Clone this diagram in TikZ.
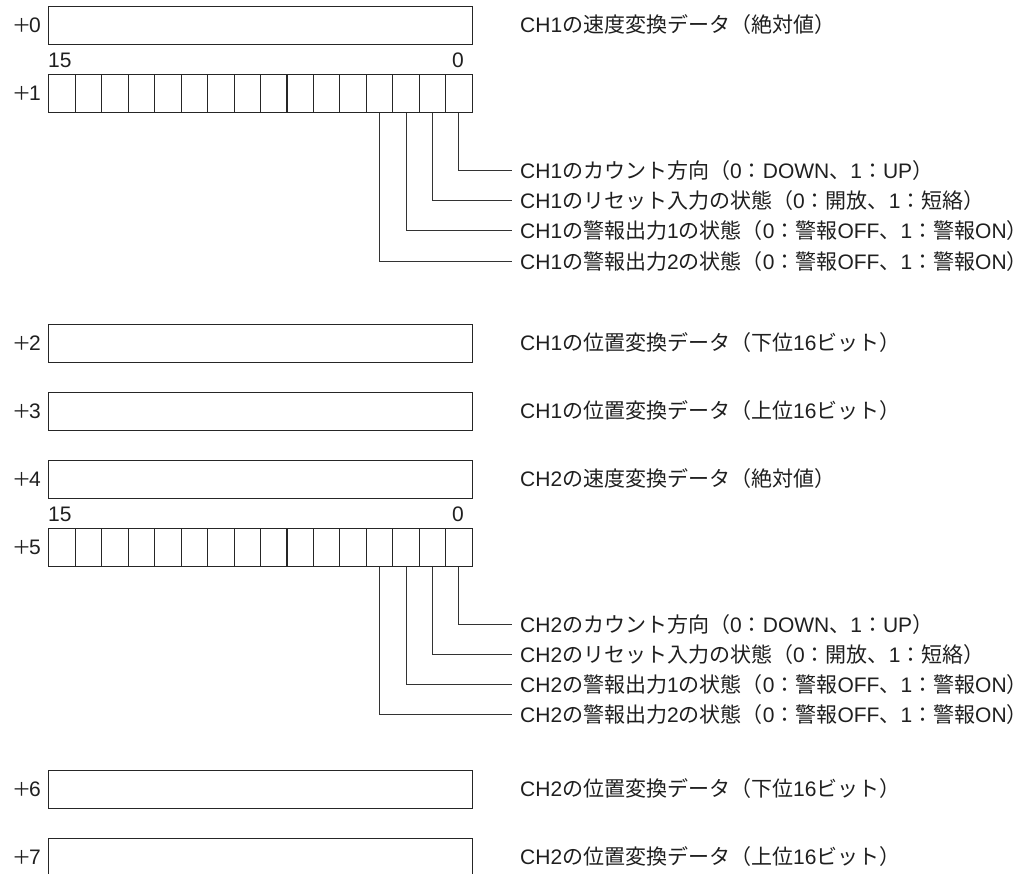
\documentclass[tikz,border=0pt]{standalone}
\usepackage{fontspec}
\setmainfont{Liberation Sans}
\newfontfamily\jpfont{Noto Sans CJK JP}
\newcommand\J[1]{{\jpfont #1}}
\newcommand\PL[1]{{\jpfont\fontsize{19}{23}\selectfont ＋}\kern-2pt#1}
\begin{document}
\begin{tikzpicture}[x=1pt,y=-1pt,
  font=\fontsize{21}{25}\selectfont,
  every node/.style={text=black!88},
  reg/.style={draw=black!85, line width=1.1pt, minimum width=423.4pt, minimum height=38pt, inner sep=0, anchor=north west},
  bitcell/.style={draw=black!85, line width=1.1pt, minimum width=26.46pt, minimum height=38pt, inner sep=0, anchor=north west},
  lbl/.style={anchor=east, inner sep=0},
  desc/.style={anchor=west, inner ysep=0, inner xsep=8pt},
  leader/.style={draw=black!80, line width=1pt}]
\useasboundingbox (0,0) rectangle (1031,874);
\clip (0,0) rectangle (1031,874);

% ---- +0
\node[reg] (r0) at (48.3,6) {};
\node[lbl] (l0) at (41,25) {\PL{0}};
\node[desc] (d0) at (512,25) {CH1\J{の速度変換データ（絶対値）}};
\node[anchor=west, inner sep=0] (h15a) at (48,60) {15};
\node[anchor=east, inner sep=0] (h0a) at (464,60) {0};

% ---- +1 bits
\foreach \i in {0,...,15}{\node[bitcell] (a\i) at ({48.3+26.46*\i},74) {};}
\node[lbl] (l1) at (41,93) {\PL{1}};
\node[desc] (e0) at (512,170.7) {CH1\J{のカウント方向（}0\J{：}DOWN\J{、}1\J{：}UP\J{）}};
\node[desc] (e1) at (512,200.7) {CH1\J{のリセット入力の状態（}0\J{：開放、}1\J{：短絡）}};
\node[desc] (e2) at (512,231) {CH1\J{の警報出力}1\J{の状態（}0\J{：警報}OFF\J{、}1\J{：警報}ON\J{）}};
\node[desc] (e3) at (512,261.3) {CH1\J{の警報出力}2\J{の状態（}0\J{：警報}OFF\J{、}1\J{：警報}ON\J{）}};
\draw[leader] (a15.south) |- (e0.west);
\draw[leader] (a14.south) |- (e1.west);
\draw[leader] (a13.south) |- (e2.west);
\draw[leader] (a12.south) |- (e3.west);

% ---- +2, +3
\node[reg] (r2) at (48.3,324) {};
\node[lbl] (l2) at (41,343) {\PL{2}};
\node[desc] (d2) at (512,343) {CH1\J{の位置変換データ（下位}16\J{ビット）}};
\node[reg] (r3) at (48.3,392) {};
\node[lbl] (l3) at (41,411) {\PL{3}};
\node[desc] (d3) at (512,411) {CH1\J{の位置変換データ（上位}16\J{ビット）}};

% ---- +4
\node[reg] (r4) at (48.3,460) {};
\node[lbl] (l4) at (41,479) {\PL{4}};
\node[desc] (d4) at (512,479) {CH2\J{の速度変換データ（絶対値）}};
\node[anchor=west, inner sep=0] (h15b) at (48,514) {15};
\node[anchor=east, inner sep=0] (h0b) at (464,514) {0};

% ---- +5 bits
\foreach \i in {0,...,15}{\node[bitcell] (b\i) at ({48.3+26.46*\i},528) {};}
\node[lbl] (l5) at (41,547) {\PL{5}};
\node[desc] (f0) at (512,624.5) {CH2\J{のカウント方向（}0\J{：}DOWN\J{、}1\J{：}UP\J{）}};
\node[desc] (f1) at (512,654.5) {CH2\J{のリセット入力の状態（}0\J{：開放、}1\J{：短絡）}};
\node[desc] (f2) at (512,684.8) {CH2\J{の警報出力}1\J{の状態（}0\J{：警報}OFF\J{、}1\J{：警報}ON\J{）}};
\node[desc] (f3) at (512,714.5) {CH2\J{の警報出力}2\J{の状態（}0\J{：警報}OFF\J{、}1\J{：警報}ON\J{）}};
\draw[leader] (b15.south) |- (f0.west);
\draw[leader] (b14.south) |- (f1.west);
\draw[leader] (b13.south) |- (f2.west);
\draw[leader] (b12.south) |- (f3.west);

% ---- +6, +7
\node[reg] (r6) at (48.3,770) {};
\node[lbl] (l6) at (41,789) {\PL{6}};
\node[desc] (d6) at (512,789) {CH2\J{の位置変換データ（下位}16\J{ビット）}};
\node[reg] (r7) at (48.3,838) {};
\node[lbl] (l7) at (41,857) {\PL{7}};
\node[desc] (d7) at (512,857) {CH2\J{の位置変換データ（上位}16\J{ビット）}};
\end{tikzpicture}
\end{document}
